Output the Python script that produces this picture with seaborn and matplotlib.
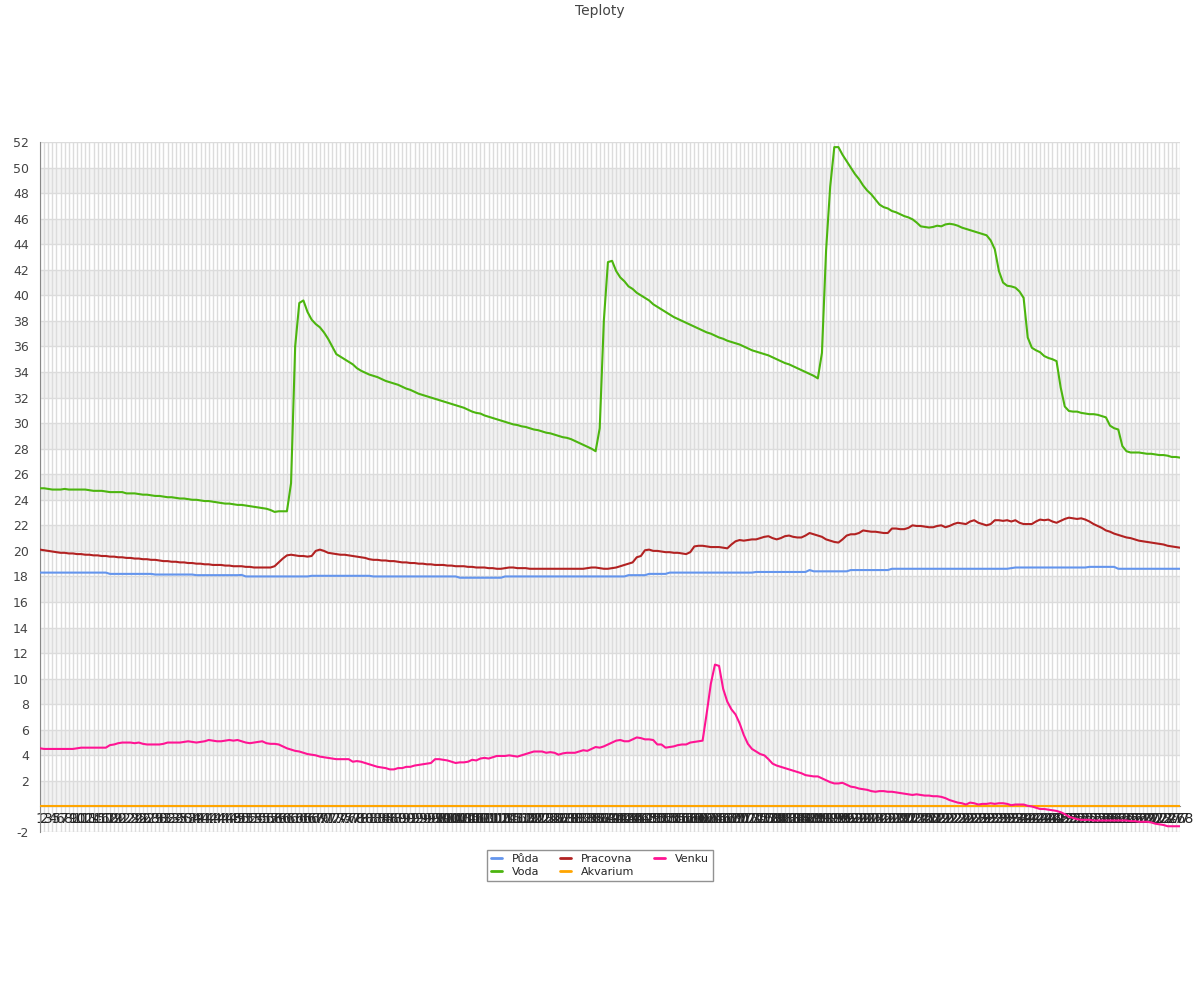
import numpy as np
import pandas as pd
import matplotlib
matplotlib.use("Agg")
import matplotlib.pyplot as plt
import seaborn as sns

# ---------------------------------------------
# data
# ---------------------------------------------
labels = [str(i) for i in range(1, 279)]

puda = [
    18.3, 18.3, 18.3, 18.3, 18.3, 18.3, 18.3, 18.3, 18.3, 18.3,
    18.3, 18.3, 18.3, 18.3, 18.3, 18.3, 18.3, 18.2, 18.2, 18.2,
    18.2, 18.2, 18.2, 18.2, 18.2, 18.2, 18.2, 18.2, 18.15, 18.15,
    18.15, 18.15, 18.15, 18.15, 18.15, 18.15, 18.15, 18.15, 18.1, 18.1,
    18.1, 18.1, 18.1, 18.1, 18.1, 18.1, 18.1, 18.1, 18.1, 18.12,
    18.0, 18.0, 18.0, 18.0, 18.0, 18.0, 18.0, 18.0, 18.0, 18.0,
    18.0, 18.0, 18.0, 18.0, 18.0, 18.0, 18.05, 18.05, 18.05, 18.05,
    18.05, 18.05, 18.05, 18.05, 18.05, 18.05, 18.05, 18.05, 18.05, 18.05,
    18.05, 18.0, 18.0, 18.0, 18.0, 18.0, 18.0, 18.0, 18.0, 18.0,
    18.0, 18.0, 18.0, 18.0, 18.0, 18.0, 18.0, 18.0, 18.0, 18.0,
    18.0, 18.0, 17.9, 17.9, 17.9, 17.9, 17.9, 17.9, 17.9, 17.9,
    17.9, 17.9, 17.9, 18.0, 18.0, 18.0, 18.0, 18.0, 18.0, 18.0,
    18.0, 18.0, 18.0, 18.0, 18.0, 18.0, 18.0, 18.0, 18.0, 18.0,
    18.0, 18.0, 18.0, 18.0, 18.0, 18.0, 18.0, 18.0, 18.0, 18.0,
    18.0, 18.0, 18.0, 18.1, 18.1, 18.1, 18.1, 18.1, 18.2, 18.2,
    18.2, 18.2, 18.2, 18.3, 18.3, 18.3, 18.3, 18.3, 18.3, 18.3,
    18.3, 18.3, 18.3, 18.3, 18.3, 18.3, 18.3, 18.3, 18.3, 18.3,
    18.3, 18.3, 18.3, 18.3, 18.35, 18.35, 18.35, 18.35, 18.35, 18.35,
    18.35, 18.35, 18.35, 18.35, 18.35, 18.35, 18.35, 18.5, 18.4, 18.4,
    18.4, 18.4, 18.4, 18.4, 18.4, 18.4, 18.4, 18.5, 18.5, 18.5,
    18.5, 18.5, 18.5, 18.5, 18.5, 18.5, 18.5, 18.6, 18.6, 18.6,
    18.6, 18.6, 18.6, 18.6, 18.6, 18.6, 18.6, 18.6, 18.6, 18.6,
    18.6, 18.6, 18.6, 18.6, 18.6, 18.6, 18.6, 18.6, 18.6, 18.6,
    18.6, 18.6, 18.6, 18.6, 18.6, 18.6, 18.65, 18.7, 18.7, 18.7,
    18.7, 18.7, 18.7, 18.7, 18.7, 18.7, 18.7, 18.7, 18.7, 18.7,
    18.7, 18.7, 18.7, 18.7, 18.7, 18.75, 18.75, 18.75, 18.75, 18.75,
    18.75, 18.75, 18.6, 18.6, 18.6, 18.6, 18.6, 18.6, 18.6, 18.6,
    18.6, 18.6, 18.6, 18.6, 18.6, 18.6, 18.6, 18.6,
]

voda = [
    24.9, 24.9, 24.85, 24.8, 24.8, 24.8, 24.85, 24.8, 24.8, 24.8,
    24.8, 24.8, 24.75, 24.7, 24.7, 24.7, 24.65, 24.6, 24.6, 24.6,
    24.6, 24.5, 24.5, 24.5, 24.45, 24.4, 24.4, 24.35, 24.3, 24.3,
    24.25, 24.2, 24.2, 24.15, 24.1, 24.1, 24.05, 24.0, 24.0, 23.95,
    23.9, 23.9, 23.85, 23.8, 23.75, 23.7, 23.7, 23.65, 23.6, 23.6,
    23.55, 23.5, 23.45, 23.4, 23.35, 23.3, 23.2, 23.05, 23.1, 23.1,
    23.1, 25.3, 36.0, 39.4, 39.6, 38.7, 38.1, 37.75, 37.5, 37.1,
    36.6, 36.0, 35.4, 35.2, 35.0, 34.8, 34.6, 34.3, 34.1, 33.95,
    33.8, 33.7, 33.6, 33.45, 33.3, 33.2, 33.1, 33.0, 32.85, 32.7,
    32.6, 32.45, 32.3, 32.2, 32.1, 32.0, 31.9, 31.8, 31.7, 31.6,
    31.5, 31.4, 31.3, 31.2, 31.05, 30.9, 30.8, 30.75, 30.6, 30.5,
    30.4, 30.3, 30.2, 30.1, 30.0, 29.9, 29.85, 29.75, 29.7, 29.6,
    29.5, 29.45, 29.35, 29.25, 29.2, 29.1, 29.0, 28.9, 28.85, 28.75,
    28.6, 28.45, 28.3, 28.15, 28.0, 27.8, 29.6, 38.0, 42.6, 42.7,
    41.9, 41.4, 41.1, 40.7, 40.5, 40.2, 40.0, 39.8, 39.6, 39.3,
    39.1, 38.9, 38.7, 38.5, 38.3, 38.15, 38.0, 37.85, 37.7, 37.55,
    37.4, 37.25, 37.1, 37.0, 36.85, 36.7, 36.6, 36.45, 36.35, 36.25,
    36.15, 36.0, 35.85, 35.7, 35.6, 35.5, 35.4, 35.3, 35.15, 35.0,
    34.85, 34.7, 34.6, 34.45, 34.3, 34.15, 34.0, 33.85, 33.7, 33.5,
    35.5, 43.5, 48.5, 51.6, 51.6, 51.0, 50.5, 50.0, 49.5, 49.1,
    48.6, 48.2, 47.9, 47.5, 47.1, 46.9, 46.8, 46.6, 46.5, 46.35,
    46.2, 46.1, 45.95, 45.7, 45.4, 45.35, 45.3, 45.35, 45.45, 45.4,
    45.55, 45.6, 45.55, 45.45, 45.3, 45.2, 45.1, 45.0, 44.9, 44.8,
    44.7, 44.3, 43.6, 41.9, 41.0, 40.75, 40.7, 40.6, 40.3, 39.8,
    36.7, 35.9, 35.7, 35.55, 35.25, 35.1, 35.0, 34.85, 32.8, 31.3,
    30.95, 30.9, 30.9, 30.8, 30.75, 30.7, 30.7, 30.65, 30.55, 30.45,
    29.8, 29.6, 29.5, 28.2, 27.8, 27.7, 27.7, 27.7, 27.65, 27.6,
    27.6, 27.55, 27.5, 27.5, 27.45, 27.35, 27.35, 27.3,
]

pracovna = [
    20.1, 20.05, 20.0, 19.95, 19.9, 19.85, 19.85, 19.8, 19.8, 19.75,
    19.75, 19.7, 19.7, 19.65, 19.65, 19.6, 19.6, 19.55, 19.55, 19.5,
    19.5, 19.45, 19.45, 19.4, 19.4, 19.35, 19.35, 19.3, 19.3, 19.25,
    19.2, 19.2, 19.15, 19.15, 19.1, 19.1, 19.05, 19.05, 19.0, 19.0,
    18.95, 18.95, 18.9, 18.9, 18.9, 18.85, 18.85, 18.8, 18.8, 18.8,
    18.75, 18.75, 18.7, 18.7, 18.7, 18.7, 18.7, 18.8, 19.1, 19.4,
    19.65, 19.7, 19.65, 19.6, 19.6, 19.55, 19.6, 20.0, 20.1, 20.0,
    19.85, 19.8, 19.75, 19.7, 19.7, 19.65, 19.6, 19.55, 19.5, 19.45,
    19.35, 19.3, 19.3, 19.25, 19.25, 19.2, 19.2, 19.15, 19.1, 19.1,
    19.05, 19.05, 19.0, 19.0, 18.95, 18.95, 18.9, 18.9, 18.9, 18.85,
    18.85, 18.8, 18.8, 18.8, 18.75, 18.75, 18.7, 18.7, 18.7, 18.65,
    18.65, 18.6, 18.6, 18.65, 18.7, 18.7, 18.65, 18.65, 18.65, 18.6,
    18.6, 18.6, 18.6, 18.6, 18.6, 18.6, 18.6, 18.6, 18.6, 18.6,
    18.6, 18.6, 18.6, 18.65, 18.7, 18.7, 18.65, 18.6, 18.6, 18.65,
    18.7, 18.8, 18.9, 19.0, 19.1, 19.5, 19.6, 20.05, 20.1, 20.0,
    20.0, 19.95, 19.9, 19.9, 19.85, 19.85, 19.8, 19.75, 19.9, 20.35,
    20.4, 20.4, 20.35, 20.3, 20.3, 20.3, 20.25, 20.2, 20.5, 20.75,
    20.85, 20.8, 20.85, 20.9, 20.9, 21.0, 21.1, 21.15, 21.0, 20.9,
    21.0, 21.15, 21.2, 21.1, 21.05, 21.05, 21.2, 21.4, 21.3, 21.2,
    21.1, 20.9, 20.8, 20.7, 20.65, 20.9, 21.2, 21.3, 21.3, 21.4,
    21.6, 21.55, 21.5, 21.5, 21.45, 21.4, 21.4, 21.75, 21.75, 21.7,
    21.7, 21.8, 22.0, 21.95, 21.95, 21.9, 21.85, 21.85, 21.95, 22.0,
    21.85, 21.95, 22.1, 22.2, 22.15, 22.1, 22.3, 22.4, 22.2, 22.1,
    22.0, 22.1, 22.4, 22.4, 22.35, 22.4, 22.3, 22.4, 22.2, 22.1,
    22.1, 22.1, 22.3, 22.45, 22.4, 22.45, 22.3, 22.2, 22.35, 22.5,
    22.6, 22.55, 22.5, 22.55, 22.45, 22.3, 22.1, 21.95, 21.8, 21.6,
    21.5, 21.35, 21.25, 21.15, 21.05, 21.0, 20.9, 20.8, 20.75, 20.7,
    20.65, 20.6, 20.55, 20.5, 20.4, 20.35, 20.3, 20.25,
]

venku = [
    4.55, 4.5, 4.5, 4.5, 4.5, 4.5, 4.5, 4.5, 4.5, 4.55,
    4.6, 4.6, 4.6, 4.6, 4.6, 4.6, 4.6, 4.8, 4.85, 4.95,
    5.0, 5.0, 5.0, 4.95, 5.0, 4.9, 4.85, 4.85, 4.85, 4.85,
    4.9, 5.0, 5.0, 5.0, 5.0, 5.05, 5.1, 5.05, 5.0, 5.05,
    5.1, 5.2, 5.15, 5.1, 5.1, 5.15, 5.2, 5.15, 5.2, 5.1,
    5.0, 4.95, 5.0, 5.05, 5.1, 4.95, 4.9, 4.9, 4.85, 4.7,
    4.55, 4.45, 4.35, 4.3, 4.2, 4.1, 4.05, 4.0, 3.9, 3.85,
    3.8, 3.75, 3.7, 3.7, 3.7, 3.7, 3.5, 3.55, 3.5, 3.4,
    3.3, 3.2, 3.1, 3.05, 3.0, 2.9, 2.9, 3.0, 3.0, 3.1,
    3.1, 3.2, 3.25, 3.3, 3.35, 3.4, 3.7, 3.7, 3.65, 3.6,
    3.5, 3.4, 3.45, 3.45, 3.5, 3.65, 3.6, 3.75, 3.8, 3.75,
    3.85, 3.95, 3.95, 3.95, 4.0, 3.95, 3.9, 4.0, 4.1, 4.2,
    4.3, 4.3, 4.3, 4.2, 4.25, 4.2, 4.05, 4.15, 4.2, 4.2,
    4.2, 4.3, 4.4, 4.35, 4.5, 4.65, 4.6, 4.7, 4.85, 5.0,
    5.15, 5.2, 5.1, 5.1, 5.25, 5.4, 5.35, 5.25, 5.25, 5.2,
    4.85, 4.85, 4.6, 4.65, 4.7, 4.8, 4.85, 4.85, 5.0, 5.05,
    5.1, 5.15, 7.3, 9.6, 11.1, 11.0, 9.2, 8.2, 7.6, 7.2,
    6.5, 5.6, 4.9, 4.5, 4.3, 4.1, 4.0, 3.7, 3.35, 3.2,
    3.1, 3.0, 2.9, 2.8, 2.7, 2.6, 2.45, 2.4, 2.35, 2.35,
    2.2, 2.05, 1.9, 1.8, 1.8, 1.85, 1.7, 1.55, 1.5, 1.4,
    1.35, 1.3, 1.2, 1.15, 1.2, 1.2, 1.15, 1.15, 1.1, 1.05,
    1.0, 0.95, 0.9, 0.95, 0.9, 0.85, 0.85, 0.8, 0.8, 0.75,
    0.65, 0.5, 0.4, 0.3, 0.25, 0.15, 0.3, 0.25, 0.15, 0.2,
    0.2, 0.25, 0.2, 0.25, 0.25, 0.2, 0.1, 0.15, 0.15, 0.15,
    0.05, 0.0, -0.1, -0.2, -0.2, -0.25, -0.3, -0.35, -0.45, -0.6,
    -0.8, -0.9, -1.0, -1.05, -1.05, -1.05, -1.1, -1.1, -1.1, -1.1,
    -1.1, -1.1, -1.1, -1.1, -1.1, -1.15, -1.15, -1.2, -1.2, -1.2,
    -1.25, -1.35, -1.4, -1.45, -1.55, -1.55, -1.55, -1.55,
]

# akvarium sensor reads a flat 0 the whole time
akvarium = [0.0] * len(labels)

series_names = ["Půda", "Voda", "Pracovna", "Akvarium", "Venku"]
colors = {
    "Půda": "#6495ed",
    "Voda": "#4cb50f",
    "Pracovna": "#b22222",
    "Akvarium": "#ffa500",
    "Venku": "#ff1493",
}

# ---------------------------------------------
# long form table for seaborn
# ---------------------------------------------
values = {"Půda": puda, "Voda": voda, "Pracovna": pracovna,
          "Akvarium": akvarium, "Venku": venku}
frames = []
for name in series_names:
    frames.append(pd.DataFrame({"idx": np.arange(len(labels)),
                                "teplota": values[name],
                                "cidlo": name}))
df = pd.concat(frames, ignore_index=True)

# ---------------------------------------------
# figure
# ---------------------------------------------
sns.set_style("white")
plt.rcParams['font.family'] = ['DejaVu Sans']

fig = plt.figure(figsize=(12, 10), dpi=100)
ax = fig.add_axes([40 / 1200, 0.168, 1140 / 1200, 0.69])

# alternating bands
for lo in range(0, 52, 4):
    ax.axhspan(lo, lo + 2, color="#f2f2f2", zorder=0, lw=0)

ax.set_axisbelow(True)
ax.set_xticks(np.arange(len(labels)))
ax.set_xticklabels(labels, fontsize=8, color="#555555")
ax.grid(axis="x", color="#dcdcdc", lw=1)
for yv in range(-2, 53, 2):
    ax.axhline(yv, color="#dcdcdc", lw=1, zorder=0.6)

sns.lineplot(data=df, x="idx", y="teplota", hue="cidlo",
             hue_order=series_names, palette=colors, lw=1.5,
             ax=ax, legend=False, zorder=3)

ax.set_xlim(0, len(labels) - 1)
ax.set_ylim(-2, 52)
ax.set_xlabel("")
ax.set_ylabel("")

yt = list(range(-2, 53, 2))
ax.set_yticks(yt)
ax.set_yticklabels(["" if v == 0 else str(v) for v in yt], fontsize=9, color="#444444")
ax.set_yticks(list(range(-1, 52, 2)), minor=True)
ax.tick_params(axis="y", which="major", length=5, color="#888888", pad=3)
ax.tick_params(axis="y", which="minor", length=4, color="#888888")
ax.tick_params(axis="x", length=0, pad=4)

for s in ["top", "right"]:
    ax.spines[s].set_visible(False)
ax.spines["left"].set_color("#888888")
ax.spines["bottom"].set_color("#888888")
ax.spines["bottom"].set_position(("data", 0))

# legend below the plot
handles = [plt.Line2D([], [], color=colors[n], lw=2) for n in series_names]
leg = fig.legend(handles, series_names, loc="upper center",
                 bbox_to_anchor=(0.5, 0.150), ncol=3, fontsize=8,
                 frameon=True, fancybox=False, handlelength=1.0,
                 handletextpad=0.9, columnspacing=1.8, borderpad=0.35,
                 labelspacing=0.25, borderaxespad=0)
leg.get_frame().set_edgecolor("#777777")
leg.get_frame().set_linewidth(1)

fig.text(0.5, 0.996, "Teploty", ha="center", va="top", fontsize=10, color="#444444")

plt.savefig("out.png", dpi=100)
